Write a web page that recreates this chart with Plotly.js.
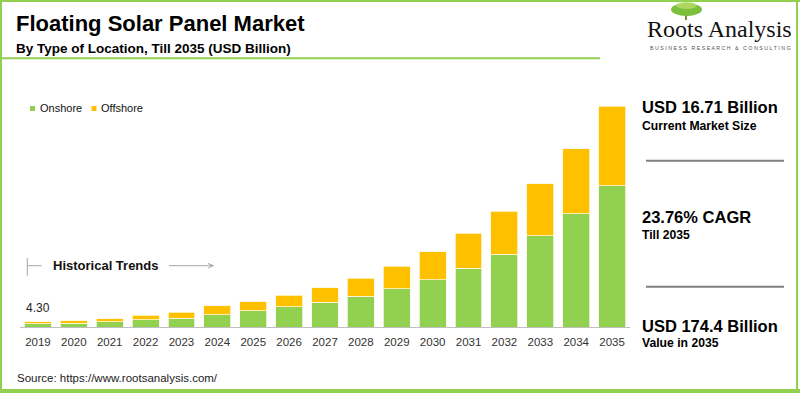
<!DOCTYPE html>
<html>
<head>
<meta charset="utf-8">
<script src="https://cdn.plot.ly/plotly-3.0.1.min.js"></script>
<style>
html,body{margin:0;padding:0;background:#fff;}
#chart{width:800px;height:393px;}
</style>
</head>
<body>
<div id="chart"></div>
<script>
// ---- data ----
const years = ["2019","2020","2021","2022","2023","2024","2025","2026","2027","2028","2029","2030","2031","2032","2033","2034","2035"];
const onshore = [2.6, 3.0, 4.1, 5.7, 7.0, 9.6, 12.8, 16.0, 19.6, 24.3, 30.4, 37.5, 46.4, 57.5, 72.0, 89.4, 111.5];
const offshore = [1.7, 1.9, 2.4, 3.4, 4.7, 7.1, 7.3, 9.1, 11.6, 14.2, 17.8, 22.1, 27.7, 34.0, 41.3, 51.4, 62.9];
const firstLabel = "4.30";
const seriesNames = ["Onshore", "Offshore"];
const stats = [
  ["USD 16.71 Billion", "Current Market Size"],
  ["23.76% CAGR", "Till 2035"],
  ["USD 174.4 Billion", "Value in 2035"]
];

// ---- geometry helpers (pixel -> paper) ----
const W = 800, H = 393;
const M = {l: 20, r: 170, t: 93, b: 66};
const PW = W - M.l - M.r, PH = H - M.t - M.b;
const px = x => (x - M.l) / PW;
const py = y => (H - M.b - y) / PH;

const GREEN = "#92d050", ORANGE = "#ffc000";
const FONT = "Liberation Sans, Arial, sans-serif";

const traces = [
  {type: "bar", x: years, y: onshore, name: seriesNames[0],
   marker: {color: GREEN, line: {color: "#f4f9e8", width: 0.8}}, hoverinfo: "x+y+name"},
  {type: "bar", x: years, y: offshore, name: seriesNames[1],
   marker: {color: ORANGE, line: {color: "#fff6d8", width: 0.8}}, hoverinfo: "x+y+name"}
];

const shapes = [];
const ann = [];
function line(x0, y0, x1, y1, color, width) {
  shapes.push({type: "line", xref: "paper", yref: "paper", x0: px(x0), y0: py(y0), x1: px(x1), y1: py(y1),
    line: {color: color, width: width}});
}
function rect(x0, y0, x1, y1, color) {
  shapes.push({type: "rect", xref: "paper", yref: "paper", x0: px(x0), y0: py(y0), x1: px(x1), y1: py(y1),
    line: {width: 0}, fillcolor: color});
}
function text(x, y, t, size, opts) {
  opts = opts || {};
  ann.push({xref: "paper", yref: "paper", x: px(x), y: py(y), text: t, showarrow: false,
    xanchor: opts.xanchor || "left", yanchor: "middle",
    font: {family: opts.family || FONT, size: size, color: opts.color || "#000"}});
}

// border
rect(0, 0, 800, 2, GREEN);
rect(0, 0, 2, 393, GREEN);
rect(796, 0, 798, 393, GREEN);
rect(0, 389, 800, 393, GREEN);
// title divider
line(0, 58.3, 600, 58.3, GREEN, 2);

// titles
text(14, 24, "<b>Floating Solar Panel Market</b>", 22);
text(14, 48, "<b>By Type of Location, Till 2035 (USD Billion)</b>", 13.5);

// logo
shapes.push({type: "path", xref: "paper", yref: "paper",
  path: `M ${px(686)},${py(20)} L ${px(686)},${py(12)}`, line: {color: "#7a8f3a", width: 2}});
shapes.push({type: "circle", xref: "paper", yref: "paper", x0: px(671), y0: py(16), x1: px(702), y1: py(3),
  fillcolor: "#7cbf3a", line: {width: 0}});
shapes.push({type: "circle", xref: "paper", yref: "paper", x0: px(676), y0: py(9), x1: px(697), y1: py(2),
  fillcolor: "#b7dd6a", line: {width: 0}, opacity: 0.8});
text(645, 29, "Roots Analysis", 24, {family: "Liberation Serif, Times New Roman, serif", color: "#111"});
text(648, 48, "B U S I N E S S &nbsp; R E S E A R C H &nbsp; & &nbsp; C O N S U L T I N G", 5.3, {color: "#555"});

// legend
rect(30, 106, 35, 111, GREEN);
text(37.5, 108.3, seriesNames[0], 11, {color: "#111"});
rect(91.5, 106, 96.5, 111, ORANGE);
text(98.5, 108.3, seriesNames[1], 11, {color: "#111"});

// historical trends marker
line(27.3, 258, 27.3, 275.7, "#a6a6a6", 1);
line(27.3, 265.7, 41.7, 265.7, "#a6a6a6", 1);
text(51, 265, "<b>Historical Trends</b>", 13, {color: "#111"});
line(169, 265.7, 212, 265.7, "#a6a6a6", 1);
shapes.push({type: "path", xref: "paper", yref: "paper",
  path: `M ${px(208)},${py(263.5)} L ${px(213.5)},${py(265.7)} L ${px(208)},${py(267.9)}`,
  line: {color: "#a6a6a6", width: 1}});

// first bar value label (category index of the first year)
ann.push({xref: "x", yref: "y", x: years.indexOf(years[0]), y: onshore[0] + offshore[0], text: firstLabel, showarrow: false,
  yanchor: "bottom", yshift: 5, font: {family: FONT, size: 12, color: "#222"}});

// right panel
text(640, 107.3, "<b>" + stats[0][0] + "</b>", 16.5);
text(640, 125.7, "<b>" + stats[0][1] + "</b>", 12.2);
line(646, 160.7, 784, 160.7, "#808080", 2);
text(640, 217, "<b>" + stats[1][0] + "</b>", 16.5);
text(640, 235, "<b>" + stats[1][1] + "</b>", 12.2);
line(646, 286.7, 784, 286.7, "#808080", 2);
text(640, 325.7, "<b>" + stats[2][0] + "</b>", 16.5);
text(640, 343.3, "<b>" + stats[2][1] + "</b>", 12.2);

// source
text(15, 377.7, "Source: https://www.rootsanalysis.com/", 11.5, {color: "#222"});

const layout = {
  width: W, height: H,
  margin: M,
  paper_bgcolor: "#fff", plot_bgcolor: "#fff",
  barmode: "stack", bargap: 0.25,
  showlegend: false,
  font: {family: FONT, size: 11, color: "#333"},
  xaxis: {type: "category", range: [-0.5, years.length - 0.5], showline: true, linecolor: "#bfbfbf", linewidth: 1, ticks: "",
    ticklabelstandoff: 4,
    tickfont: {family: FONT, size: 11.5, color: "#333"}, showgrid: false, zeroline: false, fixedrange: true},
  yaxis: {range: [0, 185], visible: false, showgrid: false, zeroline: false, fixedrange: true},
  shapes: shapes,
  annotations: ann
};

Plotly.newPlot("chart", traces, layout, {displayModeBar: false, staticPlot: true});
</script>
</body>
</html>
